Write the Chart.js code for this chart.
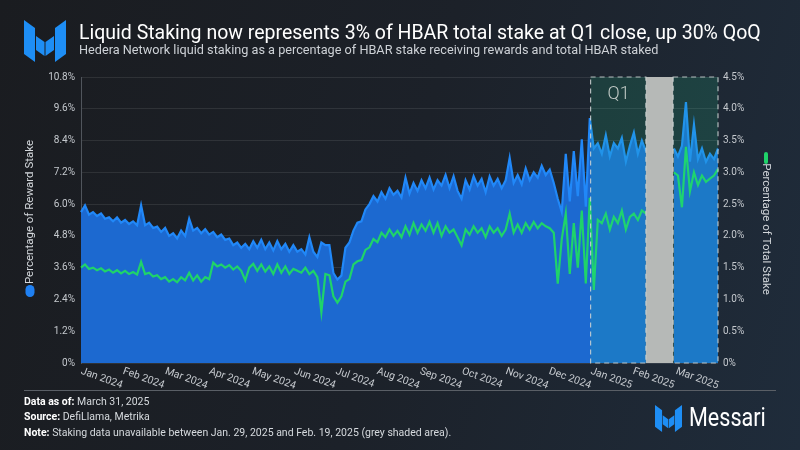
<!DOCTYPE html>
<html>
<head>
<meta charset="utf-8">
<script src="https://cdn.jsdelivr.net/npm/chart.js@4.4.1/dist/chart.umd.min.js"></script>
<style>
  html, body { margin: 0; padding: 0; }
  body {
    width: 800px; height: 450px; overflow: hidden;
    background: linear-gradient(105deg, #1a1c20 0%, #1c2129 50%, #1f2c3b 100%);
    font-family: Roboto, "Liberation Sans", sans-serif;
  }
  #wrap { position: relative; width: 800px; height: 450px; }
  #chart { position: absolute; left: 0; top: 0; }
  .abs { position: absolute; white-space: nowrap; line-height: 1; }
  #title { left: 79px; top: 23px; font-size: 19.5px; color: #ffffff; }
  #subtitle { left: 79px; top: 44px; font-size: 12.7px; color: #cdd1d6; }
  #rule { left: 24px; top: 390px; width: 752px; height: 1px; background: #5a5f66; }
  .foot { left: 24px; font-size: 10.5px; color: #d6dade; }
  .foot b { color: #ffffff; font-weight: 700; }
  #brand { left: 689px; top: 404px; font-size: 26px; color: #ffffff; transform: scaleX(0.83); transform-origin: left top; }
</style>
</head>
<body>
<div id="wrap">
  <canvas id="chart" width="800" height="450"></canvas>

  <svg class="abs" style="left:24px;top:20px" width="42" height="42" viewBox="24 20 42 42">
    <g fill="#1e8ef5">
      <polygon points="24,20 35,28 35,62 24,54"/>
      <polygon points="36,36 44.5,42 44.5,56 36,50"/>
      <polygon points="45.5,42 54,36 54,50 45.5,56"/>
      <polygon points="55,28 66,20 66,54 55,62"/>
    </g>
  </svg>
  <div id="title" class="abs">Liquid Staking now represents 3% of HBAR total stake at Q1 close, up 30% QoQ</div>
  <div id="subtitle" class="abs">Hedera Network liquid staking as a percentage of HBAR stake receiving rewards and total HBAR staked</div>

  <div id="rule" class="abs"></div>
  <div class="abs foot" style="top:397px"><b>Data as of:</b> March 31, 2025</div>
  <div class="abs foot" style="top:412px"><b>Source:</b> DefiLlama, Metrika</div>
  <div class="abs foot" style="top:428px"><b>Note:</b> Staking data unavailable between Jan. 29, 2025 and Feb. 19, 2025 (grey shaded area).</div>

  <svg class="abs" style="left:655px;top:405px" width="27" height="27" viewBox="24 20 42 42">
    <g fill="#1e8ef5">
      <polygon points="24,20 35,28 35,62 24,54"/>
      <polygon points="36,36 44.5,42 44.5,56 36,50"/>
      <polygon points="45.5,42 54,36 54,50 45.5,56"/>
      <polygon points="55,28 66,20 66,54 55,62"/>
    </g>
  </svg>
  <div id="brand" class="abs">Messari</div>
</div>

<script>
// liquid staking as % of HBAR stake receiving rewards (left axis)
const rewardStake = [
  5.7, 5.95, 5.6, 5.7, 5.55, 5.65, 5.45, 5.5, 5.35, 5.5,
  5.3, 5.4, 5.25, 5.35, 5.2, 5.95, 5.2, 5.3, 5.1, 5.15,
  4.95, 5.1, 4.8, 4.9, 4.7, 5.0, 4.8, 5.45,
  5.0, 5.1, 4.9, 5.05, 4.85, 4.95, 4.75, 4.85, 4.65, 4.7,
  4.45, 4.55, 4.35, 4.5, 4.3, 4.6, 4.35, 4.65, 4.3, 4.55,
  4.25, 4.6, 4.3, 4.5, 4.2, 4.45, 4.2,
  4.3, 4.1, 4.75, 4.2, 4.0, 4.55, 4.45, 4.45, 3.4, 3.15,
  3.3, 4.35, 4.55, 5.0, 5.3, 5.35, 5.8, 6.0, 6.3, 6.1,
  6.45, 6.2, 6.6, 6.35, 6.5, 6.25, 7.0,
  6.4, 6.8, 6.5, 6.9, 6.6, 7.0, 6.55, 6.9, 6.7, 7.1,
  6.6, 7.05, 6.5, 6.2, 6.9, 6.55, 7.05, 6.7, 6.95, 6.45,
  7.05, 6.7, 6.95, 6.6, 6.9, 7.75, 6.8,
  7.1, 6.75, 7.35, 6.9, 7.2, 7.0, 7.45, 7.1, 7.3, 6.8,
  6.2, 5.7, 7.9, 6.1, 8.0, 6.3, 8.45, 5.9, 9.25,
  8.1, 8.3, 7.9, 8.6, 7.8, 8.3, 8.1, 8.5, 7.6, 8.2,
  8.7, 7.9, 8.4, 8.0,
  null, null, null, null, null, null,
  8.1, 7.8, 8.2, 9.85, 7.6, 9.0, 7.7, 8.1, 7.6, 7.9,
  7.7, 8.1,
];

// liquid staking as % of total HBAR staked (right axis)
const totalStake = [
  1.5, 1.55, 1.48, 1.5, 1.46, 1.49, 1.44, 1.47, 1.42, 1.46,
  1.41, 1.45, 1.4, 1.43, 1.39, 1.59, 1.4, 1.42, 1.36, 1.38,
  1.32, 1.35, 1.28, 1.32, 1.27, 1.35, 1.3, 1.42,
  1.3, 1.38, 1.28, 1.35, 1.32, 1.58, 1.52, 1.55, 1.5, 1.54,
  1.47, 1.52, 1.45, 1.3, 1.5, 1.56, 1.45, 1.55, 1.44, 1.52,
  1.4, 1.55, 1.42, 1.52, 1.4, 1.48, 1.45,
  1.42, 1.5, 1.4, 1.45, 1.35, 0.8, 1.4, 1.38, 1.05, 0.95,
  1.05, 1.28, 1.32, 1.55, 1.6, 1.62, 1.78, 1.82, 1.95, 1.9,
  2.05, 1.98, 2.1, 2.0, 2.08, 1.98, 2.15,
  2.02, 2.2, 2.05, 2.18, 2.08, 2.22, 2.05, 2.2, 2.0, 2.15,
  2.05, 2.1, 1.98, 1.85, 2.1, 2.02, 2.15, 2.05, 2.12, 1.98,
  2.15, 2.05, 2.12, 2.0, 2.1, 2.35, 2.05,
  2.18, 2.05, 2.2, 2.1, 2.22, 2.12, 2.2, 2.15, 2.12, 2.05,
  1.25, 1.95, 2.35, 1.4, 2.2, 1.5, 2.4, 1.25, 2.6,
  1.15, 2.25, 2.2, 2.35, 2.1, 2.3, 2.2, 2.4, 2.1, 2.3,
  2.35, 2.25, 2.4, 2.35,
  null, null, null, null, null, null,
  3.0, 2.95, 2.45, 3.4, 2.7, 3.0, 2.8, 2.95, 2.85, 2.9,
  2.95, 3.05,
];

const monthLabels = [
  "Jan 2024", "Feb 2024", "Mar 2024", "Apr 2024", "May 2024", "Jun 2024",
  "Jul 2024", "Aug 2024", "Sep 2024", "Oct 2024", "Nov 2024", "Dec 2024",
  "Jan 2025", "Feb 2025", "Mar 2025",
];
// sample index where each month label sits
const monthTicks = [0, 10.5, 21, 32, 42.7, 53.2, 63.6, 73.9, 84.6, 95.1, 106, 116.8, 127.2, 137.8, 148.5];

const q1Range = [127.2, 159];   // Q1 2025 box
const gapRange = [141, 147.8];  // no staking data (Jan 29 - Feb 19)

const samples = rewardStake.map((_, i) => i);

const colors = {
  blueFill: "#1c69d0",
  blueLine: "#2188f8",
  green: "#1fd36a",
  tick: "#c5c9ce",
  grid: "rgba(255,255,255,0.09)",
};

const fmtPct = (v) => (v === 0 ? "0%" : v.toFixed(1) + "%");

const overlays = {
  id: "overlays",
  afterDatasetsDraw(chart) {
    const { ctx, chartArea: a } = chart;
    const x = chart.scales.x;
    const h = a.bottom - a.top;
    const q1L = x.getPixelForValue(q1Range[0]);
    const q1R = x.getPixelForValue(q1Range[1]);
    const gL = x.getPixelForValue(gapRange[0]);
    const gR = x.getPixelForValue(gapRange[1]);

    ctx.save();
    ctx.fillStyle = "rgba(35,213,147,0.15)";
    ctx.fillRect(q1L, a.top, q1R - q1L, h);
    ctx.fillStyle = "#b6b9b7";
    ctx.fillRect(gL, a.top, gR - gL, h);

    ctx.setLineDash([5, 4]);
    ctx.strokeStyle = "rgba(205,212,212,0.85)";
    ctx.lineWidth = 1.2;
    ctx.strokeRect(q1L, a.top, gL - q1L, h);
    ctx.strokeRect(gR, a.top, q1R - gR, h);
    ctx.setLineDash([]);

    ctx.fillStyle = "#c3cbc7";
    ctx.font = "300 18px Roboto";
    ctx.textAlign = "center";
    ctx.textBaseline = "middle";
    ctx.fillText("Q1", q1L + 28, a.top + 17);
    ctx.restore();
  },
  afterDraw(chart) {
    const { ctx, chartArea: a } = chart;
    const x = chart.scales.x;
    ctx.save();

    // rotated month labels
    ctx.fillStyle = colors.tick;
    ctx.font = "10.5px Roboto";
    ctx.textAlign = "left";
    ctx.textBaseline = "top";
    monthLabels.forEach((label, i) => {
      const px = x.getPixelForValue(monthTicks[i]);
      ctx.save();
      ctx.translate(px + 2, a.bottom + 3);
      ctx.rotate((20 * Math.PI) / 180);
      ctx.fillText(label, 0, 0);
      ctx.restore();
    });

    // axis titles with series markers
    ctx.font = "11.5px Roboto";
    ctx.fillStyle = "#d3d7db";
    ctx.textAlign = "center";
    ctx.textBaseline = "middle";

    ctx.save();
    ctx.translate(30, 212);
    ctx.rotate(-Math.PI / 2);
    ctx.fillText("Percentage of Reward Stake", 0, 0);
    ctx.restore();
    ctx.fillStyle = "#1f80f2";
    ctx.beginPath();
    ctx.roundRect(25.5, 285, 9, 12, 4.5);
    ctx.fill();

    ctx.fillStyle = "#d3d7db";
    ctx.save();
    ctx.translate(766, 229);
    ctx.rotate(Math.PI / 2);
    ctx.fillText("Percentage of Total Stake", 0, 0);
    ctx.restore();
    ctx.fillStyle = colors.green;
    ctx.beginPath();
    ctx.roundRect(764, 152, 4, 12, 2);
    ctx.fill();

    ctx.restore();
  },
};

new Chart(document.getElementById("chart"), {
  type: "line",
  data: {
    labels: samples,
    datasets: [
      {
        label: "Percentage of Total Stake",
        data: totalStake,
        yAxisID: "y1",
        borderColor: colors.green,
        borderWidth: 2.2,
        pointRadius: 0,
        tension: 0,
        fill: false,
        order: 0,
      },
      {
        label: "Percentage of Reward Stake",
        data: rewardStake,
        yAxisID: "y",
        borderColor: colors.blueLine,
        backgroundColor: colors.blueFill,
        borderWidth: 2.2,
        pointRadius: 0,
        tension: 0,
        fill: "origin",
        order: 1,
      },
    ],
  },
  options: {
    responsive: false,
    animation: false,
    spanGaps: false,
    layout: { padding: { left: 0, right: 0, top: 77, bottom: 87 } },
    plugins: {
      legend: { display: false },
      tooltip: { enabled: false },
    },
    scales: {
      x: {
        display: false,
      },
      y: {
        position: "left",
        min: 0,
        max: 10.8,
        afterFit: (scale) => { scale.width = 81; },
        grid: { color: colors.grid, drawTicks: false },
        border: { color: "#50555c" },
        ticks: {
          stepSize: 1.2,
          padding: 6,
          color: colors.tick,
          font: { size: 10, family: "Roboto" },
          callback: fmtPct,
        },
      },
      y1: {
        position: "right",
        min: 0,
        max: 4.5,
        afterFit: (scale) => { scale.width = 82; },
        grid: { display: false, drawTicks: false },
        border: { display: false },
        ticks: {
          stepSize: 0.5,
          padding: 5,
          color: colors.tick,
          font: { size: 10, family: "Roboto" },
          callback: fmtPct,
        },
      },
    },
  },
  plugins: [overlays],
});
</script>
</body>
</html>
